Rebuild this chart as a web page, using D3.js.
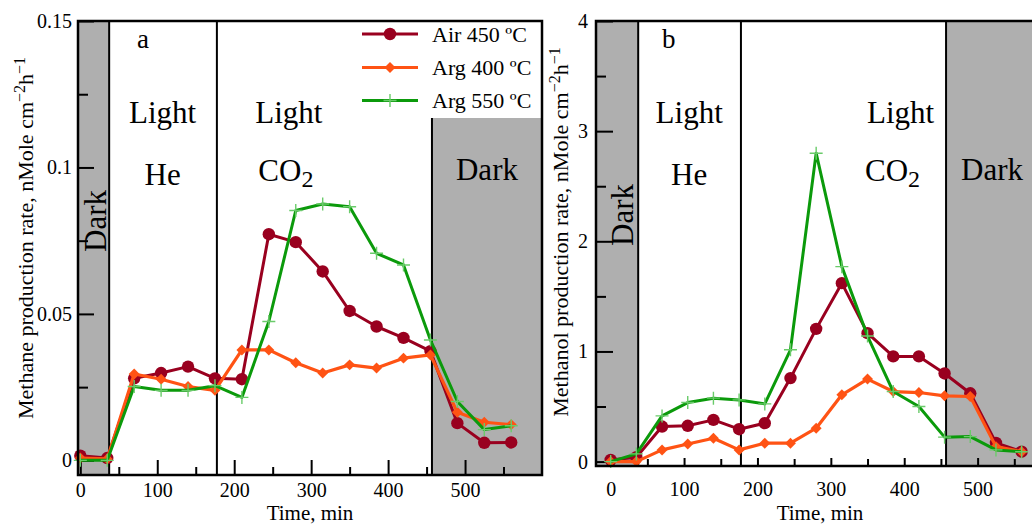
<!DOCTYPE html>
<html>
<head>
<meta charset="utf-8">
<script src="https://cdn.jsdelivr.net/npm/d3@7"></script>
<style>
  body { margin: 0; background: #fff; }
  svg { display: block; }
  text { font-family: "Liberation Serif", "Times New Roman", serif; fill: #000; }
</style>
</head>
<body>
<svg id="chart" width="1032" height="525"></svg>
<script>
// Sampling times (min) shared by every series
const times = [0, 35, 70, 105, 140, 175, 210, 245, 280, 315, 350, 385, 420, 455, 490, 525, 560];
const seriesNames = ["Air 450 ºC", "Arg 400 ºC", "Arg 550 ºC"];

// (a) methane production rate, nMole cm^-2 h^-1
const methaneAir450 = [0.0016, 0.0008, 0.028, 0.0298, 0.032, 0.028, 0.0277, 0.0772, 0.0745, 0.0645, 0.051, 0.0457, 0.0418, 0.0373, 0.0127, 0.006, 0.0061];
const methaneArg400 = [0.0008, 0.0005, 0.0295, 0.0277, 0.0252, 0.0239, 0.0377, 0.0377, 0.0333, 0.0298, 0.0326, 0.0315, 0.0349, 0.036, 0.0164, 0.013, 0.0122];
const methaneArg550 = [0, 0, 0.0252, 0.0239, 0.0239, 0.0255, 0.0215, 0.0474, 0.0853, 0.0875, 0.0866, 0.0707, 0.0667, 0.0411, 0.0201, 0.0105, 0.0118];

// (b) methanol production rate, nMole cm^-2 h^-1
const methanolAir450 = [0.015, 0.04, 0.318, 0.325, 0.379, 0.294, 0.349, 0.758, 1.205, 1.62, 1.166, 0.955, 0.955, 0.80, 0.62, 0.17, 0.09];
const methanolArg400 = [0, 0, 0.106, 0.16, 0.212, 0.106, 0.167, 0.167, 0.303, 0.606, 0.749, 0.636, 0.627, 0.597, 0.591, 0.136, 0.09];
const methanolArg550 = [0, 0.07, 0.415, 0.536, 0.576, 0.56, 0.524, 1.015, 2.8, 1.77, 1.14, 0.636, 0.5, 0.222, 0.227, 0.106, 0.09];

// Phase boundaries (min): dark | light He | light CO2 | dark
const phaseBounds = [37.5, 177.5, 457];

// Axis ticks
const timeMajorTicks = [0, 100, 200, 300, 400, 500];
const timeMinorTicks = [50, 150, 250, 350, 450, 550];
const methaneMajorTicks = [0, 0.05, 0.1, 0.15];
const methaneMinorTicks = [0.025, 0.075, 0.125];
const methanolMajorTicks = [0, 1, 2, 3, 4];
const methanolMinorTicks = [0.5, 1.5, 2.5, 3.5];

const colors = ["#99001f", "#ff5314", "#0b9a0b"];
const plusColor = "#6acb6a";
const grayFill = "#afafaf";

const svg = d3.select("#chart");

function drawPanel(cfg) {
  const g = svg.append("g");
  const x = d3.scaleLinear().domain(cfg.xDomain).range([cfg.left, cfg.right]);
  const y = d3.scaleLinear().domain(cfg.yDomain).range([cfg.bottom, cfg.top]);

  // shaded dark periods
  g.append("rect").attr("x", cfg.left).attr("y", cfg.top)
    .attr("width", x(phaseBounds[0]) - cfg.left).attr("height", cfg.bottom - cfg.top)
    .attr("fill", grayFill);
  g.append("rect").attr("x", x(phaseBounds[2])).attr("y", cfg.top)
    .attr("width", cfg.right - x(phaseBounds[2])).attr("height", cfg.bottom - cfg.top)
    .attr("fill", grayFill);

  // phase boundary lines
  g.selectAll("line.phase").data(phaseBounds).join("line")
    .attr("class", "phase")
    .attr("x1", d => x(d)).attr("x2", d => x(d))
    .attr("y1", cfg.top).attr("y2", cfg.bottom)
    .attr("stroke", "#000").attr("stroke-width", 2);

  // inward ticks
  function styleAxis(sel) {
    sel.select(".domain").remove();
    sel.selectAll(".tick line").attr("stroke", "#000").attr("stroke-width", 2);
    sel.selectAll(".tick text").attr("font-size", 20)
      .attr("font-family", '"Liberation Serif", "Times New Roman", serif').attr("fill", "#000");
    sel.attr("font-family", null).attr("font-size", null);
  }
  g.append("g").attr("transform", `translate(0,${cfg.bottom})`)
    .call(d3.axisBottom(x).tickValues(timeMajorTicks).tickSize(-cfg.xMajorLen)
      .tickPadding(cfg.xPad).tickFormat(d => String(d)))
    .call(styleAxis);
  g.append("g").attr("transform", `translate(0,${cfg.bottom})`)
    .call(d3.axisBottom(x).tickValues(timeMinorTicks).tickSize(-cfg.xMinorLen).tickFormat(""))
    .call(styleAxis);
  g.append("g").attr("transform", `translate(${cfg.left},0)`)
    .call(d3.axisLeft(y).tickValues(cfg.yMajor).tickSize(-cfg.yMajorLen)
      .tickPadding(cfg.yPad).tickFormat(d => String(d)))
    .call(styleAxis);
  g.append("g").attr("transform", `translate(${cfg.left},0)`)
    .call(d3.axisLeft(y).tickValues(cfg.yMinor).tickSize(-cfg.yMinorLen).tickFormat(""))
    .call(styleAxis);

  // series lines and markers
  const line = d3.line().x((d, i) => x(times[i])).y(d => y(d));
  const widths = [3, 3.2, 3];
  cfg.series.forEach((vals, k) => {
    g.append("path").datum(vals).attr("d", line)
      .attr("fill", "none").attr("stroke", colors[k])
      .attr("stroke-width", widths[k]).attr("stroke-linejoin", "round");
    const pts = g.append("g").selectAll("g").data(vals).join("g")
      .attr("transform", (d, i) => `translate(${x(times[i])},${y(d)})`);
    drawMarker(pts, k);
  });

  // legend
  if (cfg.legend) {
    const L = cfg.legend;
    g.append("rect").attr("x", L.boxX).attr("y", cfg.top + 1)
      .attr("width", cfg.right - L.boxX).attr("height", L.boxBottom - cfg.top - 1)
      .attr("fill", "#fff");
    seriesNames.forEach((name, k) => {
      const ry = L.rows[k];
      g.append("line").attr("x1", L.lineX0).attr("x2", L.lineX1)
        .attr("y1", ry).attr("y2", ry)
        .attr("stroke", colors[k]).attr("stroke-width", 3.2);
      const m = g.append("g").attr("transform", `translate(${(L.lineX0 + L.lineX1) / 2},${ry})`);
      drawMarker(m, k);
      g.append("text").attr("x", L.textX).attr("y", ry + 7.5)
        .attr("font-size", 22).text(name);
    });
  }

  // frame
  g.append("rect").attr("x", cfg.left).attr("y", cfg.top)
    .attr("width", cfg.right - cfg.left).attr("height", cfg.bottom - cfg.top)
    .attr("fill", "none").attr("stroke", "#000").attr("stroke-width", 2.5);

  // panel letter and phase captions
  g.append("text").attr("x", cfg.letterX).attr("y", cfg.top + 27)
    .attr("font-size", 27).text(cfg.letter);
  const cap = (tx, ty, s) => g.append("text").attr("x", x(tx)).attr("y", ty)
    .attr("text-anchor", "middle").attr("font-size", 31).text(s);
  cap(cfg.heX, cfg.top + 102, "Light");
  cap(cfg.heX, cfg.top + 164, "He");
  cap(cfg.co2X, cfg.top + 102, "Light");
  const co2 = g.append("text").attr("x", x(cfg.co2X) + cfg.co2Shift).attr("y", cfg.top + 160)
    .attr("text-anchor", "middle").attr("font-size", 31);
  co2.append("tspan").text("CO");
  co2.append("tspan").attr("font-size", 24).attr("dy", 6).text("2");
  g.append("text").attr("x", (x(phaseBounds[2]) + Math.min(cfg.right, 1032)) / 2 + cfg.darkShift)
    .attr("y", cfg.top + 159).attr("text-anchor", "middle").attr("font-size", 31).text("Dark");
  g.append("text")
    .attr("transform", `translate(${cfg.darkVX},${cfg.darkVY}) rotate(-90)`)
    .attr("text-anchor", "middle").attr("font-size", 31).text("Dark");

  // axis titles
  const yt = g.append("text")
    .attr("transform", `translate(${cfg.yTitleX},${cfg.yTitleY}) rotate(-90)`)
    .attr("text-anchor", "middle").attr("font-size", 22);
  yt.append("tspan").text(cfg.yTitle + " nMole cm");
  yt.append("tspan").attr("font-size", 16).attr("dy", -8).text("\u22122");
  yt.append("tspan").attr("font-size", 22).attr("dy", 8).text("h");
  yt.append("tspan").attr("font-size", 16).attr("dy", -8).text("\u22121");
  g.append("text").attr("x", cfg.xTitleX).attr("y", cfg.xTitleY)
    .attr("text-anchor", "middle").attr("font-size", 21).text("Time, min");
}

function drawMarker(sel, k) {
  if (k === 0) {
    sel.append("circle").attr("r", 6.2).attr("fill", colors[0]);
  } else if (k === 1) {
    sel.append("path").attr("d", d3.symbol(d3.symbolSquare, 60)())
      .attr("transform", "rotate(45)").attr("fill", colors[1]);
  } else {
    sel.append("path").attr("d", "M-6.5,0H6.5M0,-6.5V6.5")
      .attr("stroke", plusColor).attr("stroke-width", 1.4).attr("fill", "none");
  }
}

drawPanel({
  left: 78, right: 542, top: 21, bottom: 475,
  xDomain: [-3, 600], yDomain: [-0.005, 0.15],
  yMajor: methaneMajorTicks, yMinor: methaneMinorTicks,
  xMajorLen: 15, xMinorLen: 8, yMajorLen: 16, yMinorLen: 10,
  xPad: 8, yPad: 6,
  series: [methaneAir450, methaneArg400, methaneArg550],
  legend: { boxX: 357, boxBottom: 118, rows: [34, 67.5, 100.5], lineX0: 362, lineX1: 418, textX: 432 },
  letter: "a", letterX: 137,
  heX: 107, co2X: 271, co2Shift: -3, darkShift: 0,
  darkVX: 106, darkVY: 221,
  yTitle: "Methane production rate,", yTitleX: 33, yTitleY: 238,
  xTitleX: 310, xTitleY: 520
});

drawPanel({
  left: 596, right: 1051, top: 21, bottom: 466,
  xDomain: [-20, 600], yDomain: [-0.04, 4],
  yMajor: methanolMajorTicks, yMinor: methanolMinorTicks,
  xMajorLen: 8, xMinorLen: 7, yMajorLen: 17, yMinorLen: 10,
  xPad: 16, yPad: 8,
  series: [methanolAir450, methanolArg400, methanolArg550],
  legend: null,
  letter: "b", letterX: 662,
  heX: 107, co2X: 395, co2Shift: -8, darkShift: 3,
  darkVX: 633, darkVY: 215,
  yTitle: "Methanol production rate,", yTitleX: 568, yTitleY: 232,
  xTitleX: 820, xTitleY: 520
});
</script>
</body>
</html>
